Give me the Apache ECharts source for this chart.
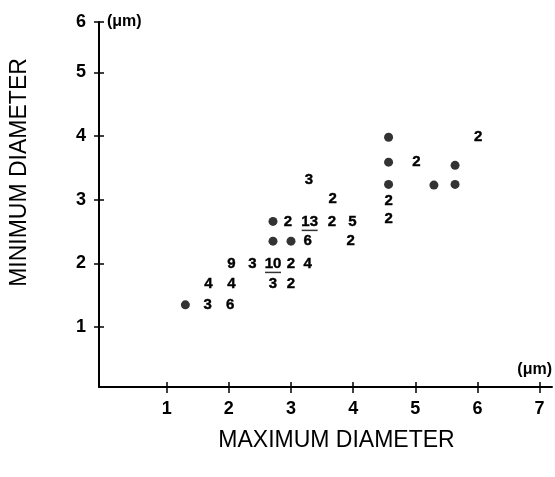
<!DOCTYPE html>
<html>
<head>
<meta charset="utf-8">
<script src="https://cdn.jsdelivr.net/npm/echarts@6/dist/echarts.min.js"></script>
<style>
html,body{margin:0;padding:0;background:#fff;}
#chart{width:555px;height:477px;}
</style>
</head>
<body>
<div id="chart"></div>
<script>
// Filled dots (single particles)
var dotPoints = [
  [1.30, 1.35], [2.71, 2.66], [2.71, 2.35], [3.00, 2.35],
  [4.57, 3.98], [4.57, 3.59], [4.57, 3.24], [5.30, 3.23],
  [5.64, 3.54], [5.64, 3.24]
];
// Count labels [x, y, count]
var countPoints = [
  [3.29, 3.31, '3'], [3.67, 3.02, '2'],
  [2.95, 2.66, '2'], [3.30, 2.66, '13'], [3.66, 2.66, '2'], [3.99, 2.66, '5'],
  [3.27, 2.35, '6'], [3.96, 2.36, '2'],
  [2.04, 2.00, '9'], [2.38, 2.00, '3'], [2.71, 2.00, '10'], [3.00, 2.00, '2'], [3.27, 2.00, '4'],
  [1.67, 1.68, '4'], [2.04, 1.68, '4'], [2.71, 1.68, '3'], [3.00, 1.68, '2'],
  [1.66, 1.35, '3'], [2.02, 1.35, '6'],
  [6.01, 3.98, '2'], [5.02, 3.59, '2'], [4.57, 2.98, '2'], [4.57, 2.70, '2']
];
// Counts that are underlined in the original
var underlinedPoints = [[3.30, 2.66], [2.71, 2.00]];

var xTickValues = [1, 2, 3, 4, 5, 6, 7];
var xTickLabels = ['1', '2', '3', '4', '5', '6', '7'];
var yTickValues = [1, 2, 3, 4, 5, 5.79];
var yTickLabels = ['1', '2', '3', '4', '5', '6'];

var FONT = '"Liberation Sans", Arial, Helvetica, sans-serif';

function xLabel(v) {
  var i = xTickValues.indexOf(v);
  return i >= 0 ? xTickLabels[i] : '';
}
function yLabel(v) {
  var i = yTickValues.indexOf(v);
  return i >= 0 ? yTickLabels[i] : '';
}

var chart = echarts.init(document.getElementById('chart'), null, {renderer: 'canvas'});
var axisCommon = {
  type: 'value',
  splitLine: {show: false}
};
chart.setOption({
  animation: false,
  backgroundColor: '#fff',
  grid: {left: 97, right: 2, top: 22, bottom: 90, containLabel: false},
  xAxis: [
    Object.assign({}, axisCommon, {
      min: -0.09, max: 7.2, position: 'bottom',
      axisLine: {show: true, onZero: false, lineStyle: {color: '#000', width: 2}},
      axisTick: {show: true, length: 6, customValues: xTickValues, lineStyle: {color: '#000', width: 1.5}},
      axisLabel: {customValues: xTickValues, formatter: xLabel, margin: 13, color: '#000', fontFamily: FONT, fontWeight: 'bold', fontSize: 18},
      name: '(\u03bcm)', nameLocation: 'end', nameGap: 0,
      nameTextStyle: {color: '#000', fontFamily: FONT, fontWeight: 'bold', fontSize: 16, align: 'right', verticalAlign: 'bottom', padding: [0, 0, 9, 0]}
    }),
    Object.assign({}, axisCommon, {
      min: -0.09, max: 7.2, position: 'bottom',
      axisLine: {show: false, onZero: false},
      axisTick: {show: true, inside: true, length: 5, customValues: xTickValues, lineStyle: {color: '#000', width: 1.5}},
      axisLabel: {show: false},
      name: 'MAXIMUM DIAMETER', nameLocation: 'middle', nameGap: 42,
      nameTextStyle: {color: '#000', fontFamily: FONT, fontSize: 23, padding: [0, 0, 0, 22]}
    })
  ],
  yAxis: [
    Object.assign({}, axisCommon, {
      min: 0.06, max: 5.79, position: 'left',
      axisLine: {show: true, onZero: false, lineStyle: {color: '#000', width: 2}},
      axisTick: {show: true, length: 5, customValues: yTickValues, lineStyle: {color: '#000', width: 1.5}},
      axisLabel: {customValues: yTickValues, formatter: yLabel, margin: 13, color: '#000', fontFamily: FONT, fontWeight: 'bold', fontSize: 18},
      name: '(\u03bcm)', nameLocation: 'end', nameGap: 0,
      nameTextStyle: {color: '#000', fontFamily: FONT, fontWeight: 'bold', fontSize: 16, align: 'left', verticalAlign: 'middle', padding: [0, 0, 0, 8]}
    }),
    Object.assign({}, axisCommon, {
      min: 0.06, max: 5.79, position: 'left',
      axisLine: {show: false, onZero: false},
      axisTick: {show: true, inside: true, length: 5, customValues: yTickValues, lineStyle: {color: '#000', width: 1.5}},
      axisLabel: {show: false},
      name: 'MINIMUM DIAMETER', nameLocation: 'middle', nameGap: 68,
      nameTextStyle: {color: '#000', fontFamily: FONT, fontSize: 23, padding: [0, 0, 0, 64]}
    })
  ],
  series: [
    {
      type: 'scatter', xAxisIndex: 0, yAxisIndex: 0,
      data: dotPoints, symbol: 'circle', symbolSize: 9,
      itemStyle: {color: '#000'}
    },
    {
      type: 'scatter', xAxisIndex: 0, yAxisIndex: 0,
      data: countPoints, symbol: 'circle', symbolSize: 0,
      itemStyle: {color: '#000', opacity: 1},
      label: {
        show: true, position: 'inside', color: '#000', opacity: 1,
        textBorderWidth: 0.4, textBorderColor: '#000',
        fontFamily: FONT, fontWeight: 'bold', fontSize: 15,
        formatter: function (p) { return p.value[2]; }
      }
    },
    {
      type: 'scatter', xAxisIndex: 0, yAxisIndex: 0,
      data: underlinedPoints, symbol: 'rect', symbolSize: [16, 1.5],
      symbolOffset: [0, 9], itemStyle: {color: '#000'}
    }
  ]
});
</script>
</body>
</html>
